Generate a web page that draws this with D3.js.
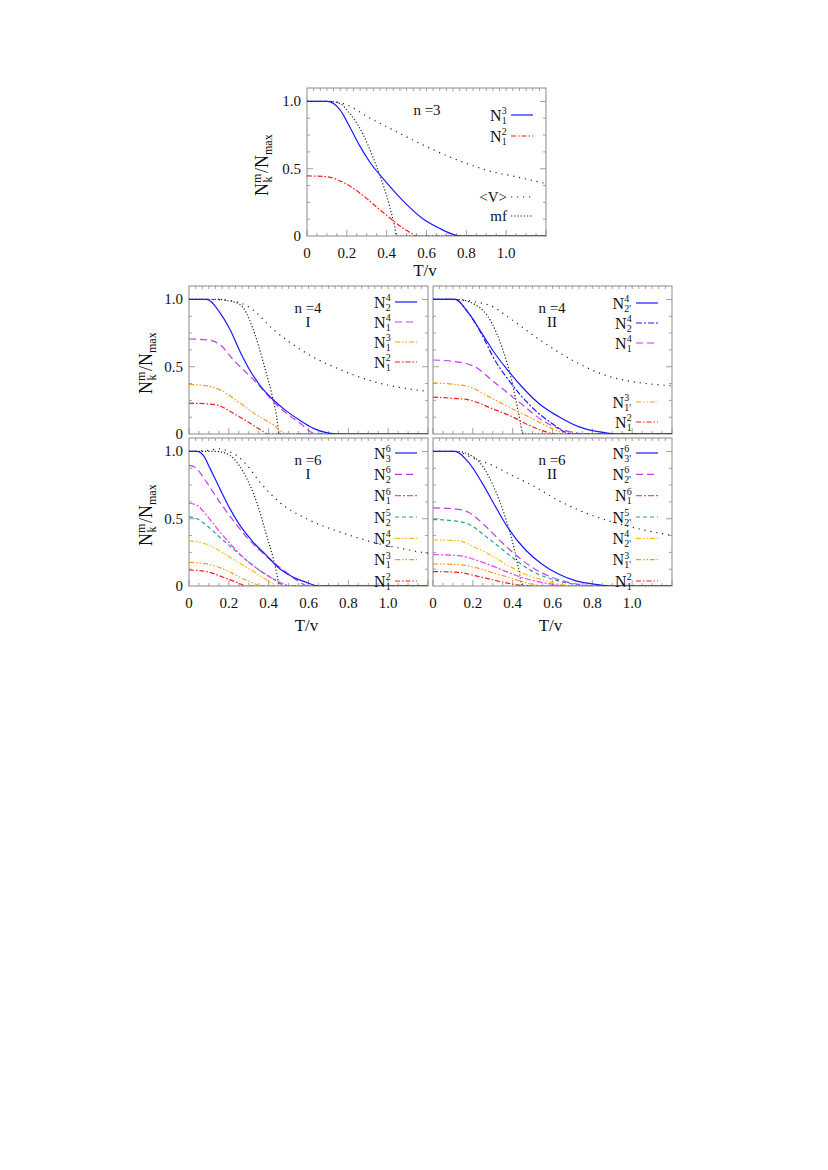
<!DOCTYPE html>
<html><head><meta charset="utf-8">
<script src="https://cdn.jsdelivr.net/npm/d3@7"></script>
<style>body{margin:0;background:#fff} text{font-family:"Liberation Serif","Times New Roman",serif;fill:#111}</style>
</head><body><svg id="c" width="828" height="1170"></svg>
<script>
// ---------- tick labels ----------
const xTickValues = [0, 0.2, 0.4, 0.6, 0.8, 1.0];
const xTickLabels = ["0", "0.2", "0.4", "0.6", "0.8", "1.0"];
const yTickValues = [0, 0.5, 1.0];
const yTickLabels = ["0", "0.5", "1.0"];

// ---------- n = 3 ----------
const n3_N13 = [[0,1],[0.1,1],[0.165,0.94],[0.215,0.81],[0.265,0.67],[0.315,0.55],[0.38,0.43],[0.43,0.345],[0.5,0.235],[0.58,0.13],[0.665,0.057],[0.75,0.005],[0.77,0],[1.2,0]];
const n3_N12 = [[0,0.447],[0.1,0.44],[0.18,0.40],[0.265,0.32],[0.35,0.215],[0.415,0.135],[0.48,0.06],[0.53,0.015],[0.55,0],[1.2,0]];
const n3_V   = [[0,1],[0.1,1],[0.15,0.995],[0.2,0.975],[0.3,0.89],[0.43,0.79],[0.55,0.7],[0.65,0.63],[0.8,0.54],[0.9,0.49],[1.05,0.44],[1.2,0.39]];
const n3_mf  = [[0,1],[0.12,1],[0.17,0.98],[0.215,0.91],[0.28,0.76],[0.33,0.59],[0.373,0.42],[0.415,0.22],[0.44,0.07],[0.45,0],[1.2,0]];

// ---------- n = 4, I ----------
const n4I_N24 = [[0,1],[0.09,1],[0.156,0.9],[0.206,0.776],[0.256,0.614],[0.307,0.47],[0.357,0.36],[0.415,0.266],[0.49,0.17],[0.558,0.1],[0.625,0.042],[0.69,0.01],[0.75,0],[1.2,0]];
const n4I_N14 = [[0,0.706],[0.09,0.7],[0.156,0.664],[0.223,0.55],[0.29,0.453],[0.357,0.353],[0.424,0.24],[0.49,0.154],[0.558,0.08],[0.61,0.017],[0.64,0],[1.2,0]];
const n4I_N13 = [[0,0.368],[0.08,0.36],[0.156,0.328],[0.256,0.229],[0.34,0.14],[0.424,0.067],[0.474,0.01],[0.49,0],[1.2,0]];
const n4I_N12 = [[0,0.229],[0.08,0.225],[0.14,0.216],[0.223,0.154],[0.307,0.08],[0.374,0.017],[0.395,0],[1.2,0]];
const n4I_V   = [[0,1],[0.1,1],[0.18,0.995],[0.256,0.975],[0.307,0.938],[0.424,0.776],[0.59,0.6],[0.76,0.478],[0.926,0.39],[1.2,0.316]];
const n4I_mf  = [[0,1],[0.15,1],[0.2,0.99],[0.256,0.963],[0.323,0.776],[0.374,0.527],[0.415,0.3],[0.44,0.13],[0.454,0],[1.2,0]];

// ---------- n = 4, II ----------
const n4II_N2p4 = [[0,1],[0.11,1],[0.178,0.9],[0.245,0.75],[0.31,0.6],[0.38,0.465],[0.445,0.353],[0.53,0.229],[0.63,0.13],[0.73,0.055],[0.83,0.017],[0.93,0],[1.2,0]];
const n4II_N24  = [[0,1],[0.11,1],[0.178,0.9],[0.245,0.74],[0.31,0.55],[0.38,0.40],[0.445,0.28],[0.53,0.154],[0.596,0.08],[0.66,0.017],[0.7,0],[1.2,0]];
const n4II_N14  = [[0,0.55],[0.1,0.54],[0.21,0.5],[0.295,0.4],[0.38,0.3],[0.46,0.204],[0.546,0.104],[0.63,0.042],[0.73,0.005],[0.76,0],[1.2,0]];
const n4II_N1p3 = [[0,0.38],[0.1,0.37],[0.178,0.353],[0.295,0.266],[0.395,0.19],[0.496,0.117],[0.596,0.042],[0.66,0.005],[0.68,0],[1.2,0]];
const n4II_N12  = [[0,0.274],[0.1,0.265],[0.178,0.254],[0.295,0.19],[0.395,0.13],[0.496,0.055],[0.58,0.01],[0.61,0],[1.2,0]];
const n4II_V    = [[0,1],[0.1,1],[0.2,0.985],[0.295,0.95],[0.395,0.85],[0.546,0.69],[0.71,0.54],[0.88,0.43],[1.2,0.358]];
const n4II_mf   = [[0,1],[0.12,1],[0.21,0.963],[0.295,0.826],[0.345,0.65],[0.395,0.4],[0.43,0.154],[0.454,0],[1.2,0]];

// ---------- n = 6, I ----------
const n6I_N36 = [[0,1],[0.04,1],[0.072,0.97],[0.105,0.876],[0.156,0.72],[0.206,0.573],[0.256,0.45],[0.323,0.325],[0.39,0.226],[0.457,0.127],[0.524,0.065],[0.59,0.027],[0.64,0.002],[0.66,0],[1.2,0]];
const n6I_N26 = [[0,0.896],[0.03,0.883],[0.089,0.77],[0.156,0.62],[0.223,0.486],[0.29,0.362],[0.357,0.263],[0.424,0.176],[0.49,0.1],[0.558,0.027],[0.6,0],[1.2,0]];
const n6I_N16 = [[0,0.615],[0.04,0.6],[0.089,0.524],[0.156,0.4],[0.223,0.288],[0.29,0.189],[0.357,0.114],[0.424,0.052],[0.49,0.007],[0.51,0],[1.2,0]];
const n6I_N25 = [[0,0.516],[0.04,0.5],[0.089,0.45],[0.156,0.36],[0.223,0.275],[0.29,0.19],[0.357,0.114],[0.424,0.052],[0.49,0],[1.2,0]];
const n6I_N24 = [[0,0.335],[0.055,0.325],[0.122,0.288],[0.206,0.213],[0.29,0.139],[0.357,0.077],[0.424,0.015],[0.45,0],[1.2,0]];
const n6I_N13 = [[0,0.176],[0.089,0.164],[0.172,0.127],[0.256,0.065],[0.323,0.022],[0.36,0],[1.2,0]];
const n6I_N12 = [[0,0.119],[0.089,0.107],[0.172,0.065],[0.24,0.027],[0.29,0],[1.2,0]];
const n6I_V   = [[0,1],[0.089,1.007],[0.156,1.02],[0.2,1.0],[0.24,0.97],[0.29,0.9],[0.357,0.77],[0.457,0.62],[0.59,0.5],[0.76,0.4],[0.926,0.325],[1.2,0.243]];
const n6I_mf  = [[0,1],[0.14,1],[0.206,0.97],[0.273,0.846],[0.34,0.623],[0.39,0.375],[0.424,0.2],[0.44,0.1],[0.454,0],[1.2,0]];

// ---------- n = 6, II ----------
const n6II_N3p6 = [[0,1],[0.11,1],[0.178,0.92],[0.245,0.77],[0.31,0.6],[0.38,0.424],[0.46,0.275],[0.546,0.164],[0.63,0.089],[0.714,0.04],[0.83,0.01],[0.9,0],[1.2,0]];
const n6II_N2p6 = [[0,0.58],[0.1,0.575],[0.178,0.548],[0.26,0.45],[0.345,0.325],[0.43,0.213],[0.51,0.127],[0.596,0.065],[0.68,0.027],[0.8,0.002],[0.85,0],[1.2,0]];
const n6II_N16  = [[0,0.233],[0.127,0.226],[0.21,0.196],[0.295,0.151],[0.38,0.1],[0.46,0.057],[0.546,0.027],[0.66,0.002],[0.7,0],[1.2,0]];
const n6II_N2p5 = [[0,0.494],[0.1,0.485],[0.178,0.46],[0.26,0.375],[0.345,0.275],[0.43,0.176],[0.51,0.1],[0.596,0.052],[0.7,0.015],[0.8,0],[1.2,0]];
const n6II_N2p4 = [[0,0.342],[0.127,0.337],[0.21,0.288],[0.295,0.226],[0.38,0.15],[0.46,0.089],[0.546,0.047],[0.63,0.015],[0.7,0],[1.2,0]];
const n6II_N1p3 = [[0,0.164],[0.127,0.159],[0.21,0.139],[0.295,0.1],[0.38,0.065],[0.46,0.027],[0.546,0.002],[0.57,0],[1.2,0]];
const n6II_N12  = [[0,0.107],[0.127,0.102],[0.21,0.077],[0.295,0.047],[0.38,0.02],[0.46,0.002],[0.5,0],[1.2,0]];
const n6II_V    = [[0,1],[0.1,1],[0.127,0.995],[0.21,0.945],[0.295,0.9],[0.38,0.834],[0.5,0.747],[0.63,0.635],[0.8,0.524],[0.965,0.45],[1.2,0.375]];
const n6II_mf   = [[0,1],[0.12,1],[0.178,0.98],[0.245,0.9],[0.31,0.72],[0.36,0.524],[0.404,0.3],[0.43,0.127],[0.45,0],[1.2,0]];

// ---------- styles ----------
const ST = {
  blue:    {c:"#1a1aff", d:null},
  blueDD:  {c:"#1a1aff", d:"6,2,2,2"},
  purple:  {c:"#c03cf0", d:"7,4"},
  pink:    {c:"#f03cf0", d:"6,2,2,2"},
  teal:    {c:"#2f9a9a", d:"4,3"},
  yellow:  {c:"#ffbf00", d:"5,2,1.5,2,1.5,2"},
  orange:  {c:"#ff9a1a", d:"5,2,1.5,2,1.5,2"},
  red:     {c:"#ff1a1a", d:"5,2,1.5,2"},
  V:       {c:"#222", d:"1.2,4.8"},
  mf:      {c:"#222", d:"1.2,2"}
};

const panels = [
  {x0:307,x1:546,y0:88,y1:236, left:true, bottom:true, ylabX:262, title:["n =3"], lx:507,
   series:[
     {d:n3_N13, s:"blue", lab:["N","3","1"], ly:115},
     {d:n3_N12, s:"red", lab:["N","2","1"], ly:136},
     {d:n3_V, s:"V", txt:"<V>", ly:197},
     {d:n3_mf, s:"mf", txt:"mf", ly:216}]},
  {x0:189,x1:428,y0:286,y1:434, left:true, bottom:false, ylabX:146, title:["n =4","I"], lx:391,
   series:[
     {d:n4I_N24, s:"blue", lab:["N","4","2"], ly:302},
     {d:n4I_N14, s:"purple", lab:["N","4","1"], ly:322},
     {d:n4I_N13, s:"orange", lab:["N","3","1"], ly:342},
     {d:n4I_N12, s:"red", lab:["N","2","1"], ly:362},
     {d:n4I_V, s:"V"}, {d:n4I_mf, s:"mf"}]},
  {x0:433,x1:672,y0:286,y1:434, left:false, bottom:false, title:["n =4","II"], lx:632,
   series:[
     {d:n4II_N2p4, s:"blue", lab:["N","4","2'"], ly:303},
     {d:n4II_N24, s:"blueDD", lab:["N","4","2"], ly:323},
     {d:n4II_N14, s:"purple", lab:["N","4","1"], ly:343},
     {d:n4II_N1p3, s:"orange", lab:["N","3","1'"], ly:402},
     {d:n4II_N12, s:"red", lab:["N","2","1"], ly:422},
     {d:n4II_V, s:"V"}, {d:n4II_mf, s:"mf"}]},
  {x0:189,x1:428,y0:438,y1:586, left:true, bottom:true, ylabX:146, title:["n =6","I"], lx:391,
   series:[
     {d:n6I_N36, s:"blue", lab:["N","6","3"], ly:453},
     {d:n6I_N26, s:"purple", lab:["N","6","2"], ly:474.3},
     {d:n6I_N16, s:"pink", lab:["N","6","1"], ly:495.6},
     {d:n6I_N25, s:"teal", lab:["N","5","2"], ly:517},
     {d:n6I_N24, s:"yellow", lab:["N","4","2"], ly:538.3},
     {d:n6I_N13, s:"orange", lab:["N","3","1"], ly:559.6},
     {d:n6I_N12, s:"red", lab:["N","2","1"], ly:581},
     {d:n6I_V, s:"V"}, {d:n6I_mf, s:"mf"}]},
  {x0:433,x1:672,y0:438,y1:586, left:false, bottom:true, title:["n =6","II"], lx:632,
   series:[
     {d:n6II_N3p6, s:"blue", lab:["N","6","3'"], ly:453},
     {d:n6II_N2p6, s:"purple", lab:["N","6","2'"], ly:474.3},
     {d:n6II_N16, s:"pink", lab:["N","6","1"], ly:495.6},
     {d:n6II_N2p5, s:"teal", lab:["N","5","2'"], ly:517},
     {d:n6II_N2p4, s:"yellow", lab:["N","4","2'"], ly:538.3},
     {d:n6II_N1p3, s:"orange", lab:["N","3","1'"], ly:559.6},
     {d:n6II_N12, s:"red", lab:["N","2","1"], ly:581},
     {d:n6II_V, s:"V"}, {d:n6II_mf, s:"mf"}]}
];

const svg = d3.select("#c");
const frameColor = "#8a8a8a";

panels.forEach(p => {
  const x = d3.scaleLinear().domain([0, 1.2]).range([p.x0, p.x1]);
  const y = d3.scaleLinear().domain([0, 1.1]).range([p.y1, p.y0]);
  const g = svg.append("g");
  const clipId = "clip" + p.x0 + "_" + p.y0;
  svg.append("clipPath").attr("id", clipId).append("rect")
    .attr("x", p.x0).attr("y", p.y0 - 2).attr("width", p.x1 - p.x0).attr("height", p.y1 - p.y0 + 2);

  const tk = g.append("g").attr("stroke", frameColor).attr("stroke-width", 0.8);
  d3.range(0, 1.2001, 0.05).forEach(v => {
    const major = Math.abs(v / 0.2 - Math.round(v / 0.2)) < 1e-6;
    const L = major ? 6 : 3;
    tk.append("line").attr("x1", x(v)).attr("x2", x(v)).attr("y1", p.y1).attr("y2", p.y1 - L);
  });
  d3.range(1/30, 1.2, 1/30).forEach(v => {
    tk.append("line").attr("x1", x(v)).attr("x2", x(v)).attr("y1", p.y0).attr("y2", p.y0 + 3);
  });
  d3.range(0.125, 1.1, 0.125).forEach(v => {
    const major = Math.abs(v * 2 - Math.round(v * 2)) < 1e-6;
    const L = major ? 6 : 3;
    tk.append("line").attr("x1", p.x0).attr("x2", p.x0 + L).attr("y1", y(v)).attr("y2", y(v));
    tk.append("line").attr("x1", p.x1).attr("x2", p.x1 - L).attr("y1", y(v)).attr("y2", y(v));
  });

  g.append("rect").attr("x", p.x0).attr("y", p.y0).attr("width", p.x1 - p.x0).attr("height", p.y1 - p.y0)
    .attr("fill", "none").attr("stroke", frameColor).attr("stroke-width", 1);

  const line = d3.line().x(d => x(d[0])).y(d => y(d[1])).curve(d3.curveMonotoneX);
  const cg = g.append("g").attr("clip-path", "url(#" + clipId + ")");
  p.series.slice().reverse().forEach(s => {
    const st = ST[s.s];
    cg.append("path").attr("d", line(s.d)).attr("fill", "none").attr("stroke", st.c)
      .attr("stroke-width", 1.2).attr("stroke-dasharray", st.d);
  });

  if (p.left) {
    yTickValues.forEach((v, i) => {
      g.append("text").attr("x", p.x0 - 6).attr("y", y(v) + 5).attr("text-anchor", "end")
        .attr("font-size", 15).text(yTickLabels[i]);
    });
    const yl = g.append("g").attr("transform", `translate(${p.ylabX},${(p.y0 + p.y1) / 2 + 4}) rotate(-90)`);
    const wN = 13, wM = 10;
    const t1 = yl.append("text").attr("font-size", 18).attr("y", 6).text("N");
    const t2 = yl.append("text").attr("font-size", 12).attr("x", wN).attr("y", -1).text("m");
    const t3 = yl.append("text").attr("font-size", 12).attr("x", wN + 0.5).attr("y", 10).text("k");
    const t4 = yl.append("text").attr("font-size", 18).attr("x", wN + wM).attr("y", 6).text("/N");
    const t5 = yl.append("text").attr("font-size", 12).attr("x", wN + wM + 18).attr("y", 10).text("max");
    const total = wN + wM + 18 + 19;
    [t1, t2, t3, t4, t5].forEach(t => t.attr("transform", `translate(${-total / 2},0)`));
  }
  if (p.bottom) {
    xTickValues.forEach((v, i) => {
      g.append("text").attr("x", x(v)).attr("y", p.y1 + 22).attr("text-anchor", "middle")
        .attr("font-size", 15).text(xTickLabels[i]);
    });
    g.append("text").attr("x", p.x0 === 307 ? 425 : (p.x0 + p.x1) / 2 - 2)
      .attr("y", p.y1 + (p.x0 === 307 ? 40 : 45)).attr("text-anchor", "middle")
      .attr("font-size", 17).text("T/v");
  }

  const cx = p.x0 === 307 ? 427 : p.x0 + 119;
  g.append("text").attr("x", cx).attr("y", p.y0 + 27).attr("text-anchor", "middle")
    .attr("font-size", 15).text(p.title[0]);
  if (p.title[1]) g.append("text").attr("x", cx).attr("y", p.y0 + 41).attr("text-anchor", "middle")
    .attr("font-size", 15).text(p.title[1]);

  p.series.filter(s => s.ly !== undefined).forEach(s => {
    const st = ST[s.s];
    const lg = g.append("g");
    if (s.lab) {
      const scriptW = s.lab[2].length > 1 ? 8 : 5.5;
      lg.append("text").attr("x", p.lx - scriptW).attr("y", s.ly + 5.5).attr("text-anchor", "end")
        .attr("font-size", 16).text(s.lab[0]);
      lg.append("text").attr("x", p.lx - scriptW + 0.3).attr("y", s.ly - 1).attr("font-size", 10).text(s.lab[1]);
      lg.append("text").attr("x", p.lx - scriptW + 0.3).attr("y", s.ly + 8.5).attr("font-size", 10).text(s.lab[2]);
    } else {
      lg.append("text").attr("x", p.lx).attr("y", s.ly + 5).attr("text-anchor", "end")
        .attr("font-size", 15).text(s.txt);
    }
    lg.append("line").attr("x1", p.lx + 4).attr("x2", p.lx + 26).attr("y1", s.ly).attr("y2", s.ly)
      .attr("stroke", st.c).attr("stroke-width", 1.2).attr("stroke-dasharray", st.d);
  });
});
</script></body></html>
